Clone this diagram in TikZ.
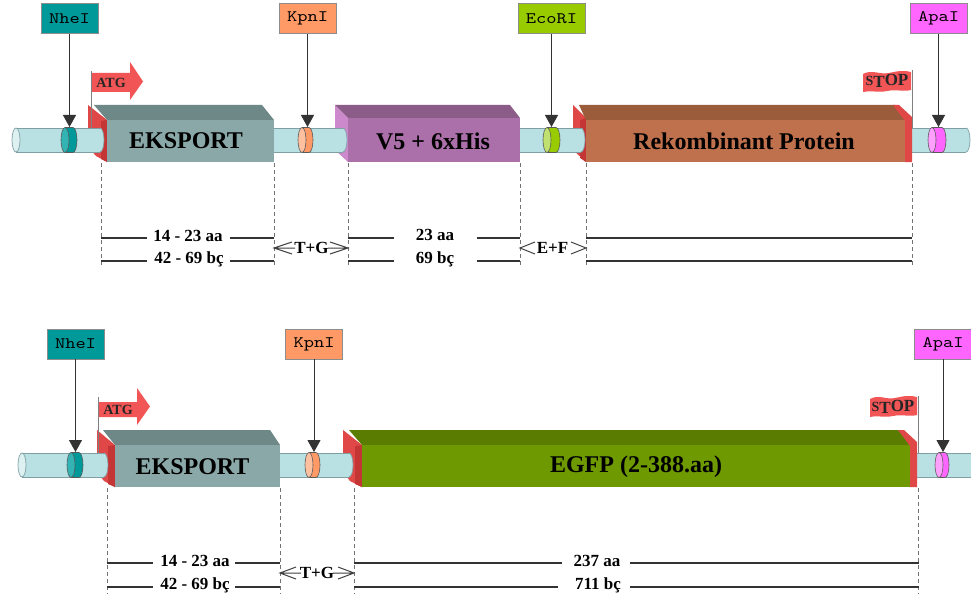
\documentclass[tikz,border=0pt]{standalone}
\usepackage{fontspec}
\setmainfont{Liberation Serif}
\newfontfamily\monof{lmmono10-regular.otf}[FakeStretch=1.22]
\usetikzlibrary{arrows.meta}

\definecolor{tubefill}{HTML}{B9E0E3}
\definecolor{tubeend}{HTML}{DDF1F2}
\definecolor{tubeline}{HTML}{7F9FA3}
\definecolor{ekTop}{HTML}{6E8787}
\definecolor{ekFront}{HTML}{8AA8A8}
\definecolor{vTop}{HTML}{8C5C88}
\definecolor{vFront}{HTML}{AB6FA9}
\definecolor{vSide}{HTML}{CC8ACC}
\definecolor{rkTop}{HTML}{9B5C3C}
\definecolor{rkFront}{HTML}{BF704C}
\definecolor{egTop}{HTML}{5A7C00}
\definecolor{egFront}{HTML}{6E9900}
\definecolor{capRed}{HTML}{E04848}
\definecolor{capDark}{HTML}{C43636}
\definecolor{flagRed}{HTML}{F25555}
\definecolor{nheC}{HTML}{009999}
\definecolor{nheL}{HTML}{33B3B3}
\definecolor{kpnC}{HTML}{FF9966}
\definecolor{kpnL}{HTML}{FFC0A0}
\definecolor{ecoC}{HTML}{99CC00}
\definecolor{ecoL}{HTML}{C0E070}
\definecolor{apaC}{HTML}{FF66FF}
\definecolor{apaL}{HTML}{FFA0FF}

\tikzset{
  enz/.style={draw=black!45, line width=0.8pt, minimum width=57pt, minimum height=30pt,
    inner sep=0pt, font=\monof\fontsize{16}{16}\selectfont},
  cut/.style={draw=black!80, line width=0.9pt, -{Triangle[width=13pt,length=12pt]}},
  dimline/.style={draw=black!80, line width=1.1pt},
  chev/.style={draw=black!75, line width=1pt, line join=miter},
  guide/.style={draw=black!55, dash pattern=on 4pt off 3pt, line width=0.7pt},
  dimtxt/.style={font=\bfseries\fontsize{17}{17}\selectfont, inner sep=0pt},
  boxtxt/.style={font=\bfseries\fontsize{24}{24}\selectfont, inner sep=0pt},
  flagtxt/.style={font=\bfseries\fontsize{14}{14}\selectfont, inner sep=0pt, text=black!85},
  stoptxt/.style={font=\bfseries\fontsize{17}{17}\selectfont, inner sep=0pt, text=black!85},
  pole/.style={draw=black!50, line width=1pt},
}

% tube segment: x1, x2, yc, cap(1/0)
\newcommand{\tubeseg}[4]{%
  \ifnum#4=1 \fill[tubefill] (#2,#3) ellipse [x radius=4, y radius=12];\fi
  \fill[tubefill] (#1,#3-12) rectangle (#2,#3+12);
  \draw[tubeline, line width=0.7pt] (#1,#3-12) -- (#2,#3-12) (#1,#3+12) -- (#2,#3+12);
  \ifnum#4=1 \draw[tubeline, line width=0.7pt] (#2,#3-12) arc [start angle=-90, end angle=90, x radius=4, y radius=12];\fi
}
% ring: x left centre, x right centre, yc, light, dark
\newcommand{\ringmk}[5]{%
  \fill[#5] (#1,#3-12.5) rectangle (#2,#3+12.5);
  \fill[#5] (#2,#3) ellipse [x radius=4, y radius=12.5];
  \draw[black!65, line width=0.6pt] (#2,#3-12.5) arc [start angle=-90, end angle=90, x radius=4, y radius=12.5];
  \draw[black!65, line width=0.6pt] (#1,#3-12.5) -- (#2,#3-12.5) (#1,#3+12.5) -- (#2,#3+12.5);
  \filldraw[fill=#4, draw=black!65, line width=0.6pt] (#1,#3) ellipse [x radius=4, y radius=12.5];
}
\newcommand{\stopword}{{\fontsize{14}{14}\selectfont S}\raisebox{-2pt}{T}OP}

\begin{document}
\begin{tikzpicture}[x=1pt,y=-1pt]
\fill[white] (0,0) rectangle (971,599);
\useasboundingbox (0,0) rectangle (971,599);

%================= TOP ROW =================
\foreach \x in {101,274,348,520,586,912}{\draw[guide] (\x,163) -- (\x,266);}

% side faces / caps behind tube
\fill[capRed] (88,105) -- (107,120) -- (107,162) -- (96,156) -- (88,147) -- cycle;
\fill[capDark] (101,121) -- (107,120) -- (107,162) -- (101,159) -- cycle;
\fill[vSide] (335,105) -- (348,118) -- (348,162) -- (335,150) -- cycle;
\fill[capRed] (573,105) -- (586,118) -- (586,162) -- (573,150) -- cycle;
\fill[capDark] (580,120) -- (586,118) -- (586,162) -- (580,158) -- cycle;

% tube
\tubeseg{16}{100}{140}{1}
\filldraw[fill=tubeend, draw=tubeline, line width=0.7pt] (16,140) ellipse [x radius=4, y radius=12];
\tubeseg{274}{343}{140}{1}
\tubeseg{520}{581}{140}{1}
\tubeseg{912}{966}{140}{1}

% blocks
\fill[ekTop] (94,105) -- (262,105) -- (274,120) -- (107,120) -- cycle;
\fill[ekFront] (107,120) rectangle (274,162);
\fill[vTop] (335,105) -- (510,105) -- (520,118) -- (348,118) -- cycle;
\fill[vFront] (348,118) rectangle (520,162);
\fill[rkTop] (579,105) -- (895,105) -- (912,120) -- (586,120) -- cycle;
\fill[rkFront] (586,120) rectangle (906,162);
\fill[capRed] (893,105) -- (899,105) -- (912,117) -- (912,162) -- (905,162) -- (905,121) -- cycle;

\node[boxtxt] (ek1) at (186,141) {EKSPORT};
\node[boxtxt] (v51) at (433,141) {V5 + 6xHis};
\node[boxtxt] (rk1) at (744,141) {Rekombinant Protein};

% rings
\ringmk{65}{73}{140}{nheL}{nheC}
\ringmk{302}{309}{140}{kpnL}{kpnC}
\ringmk{547}{556}{140}{ecoL}{ecoC}
\ringmk{932}{942}{140}{apaL}{apaC}

% enzyme boxes and cut arrows
\node[enz, fill=nheC] (nhe1) at (69.5,18.5) {NheI};
\node[enz, fill=kpnC] (kpn1) at (307.5,18.5) {KpnI};
\node[enz, fill=ecoC, minimum width=67pt] (eco1) at (551.5,18.5) {EcoRI};
\node[enz, fill=apaC] (apa1) at (938.5,18.5) {ApaI};
\coordinate (nhe1t) at (69.5,127);
\coordinate (kpn1t) at (307.5,127);
\coordinate (eco1t) at (551.5,127);
\coordinate (apa1t) at (938.5,127);
\draw[cut] (nhe1) -- (nhe1t);
\draw[cut] (kpn1) -- (kpn1t);
\draw[cut] (eco1) -- (eco1t);
\draw[cut] (apa1) -- (apa1t);

% ATG flag
\coordinate (atg1p) at (91,71);
\coordinate (atg1b) at (91,128);
\draw[pole] (atg1p) -- (atg1b);
\fill[flagRed] (92,73) -- (130,73) -- (130,62) -- (143,81.5) -- (130,100) -- (130,92) -- (92,92) -- cycle;
\node[flagtxt] (atg1) at (111,83) {ATG};

% STOP flag
\coordinate (stp1p) at (912,70);
\coordinate (stp1b) at (912,128);
\fill[flagRed] (863,74) .. controls (872,69) and (880,75) .. (889,73) .. controls (898,71) and (904,70) .. (911,72)
  -- (911,90) .. controls (903,92) and (896,89) .. (887,91) .. controls (878,93) and (870,90) .. (863,92) -- cycle;
\draw[pole, line width=0.8pt] (stp1p) -- (stp1b);
\node[stoptxt] (stp1) at (887,81) {\stopword};

% dimensions
\node[dimtxt] (d1) at (188,236) {14 - 23 aa};
\node[dimtxt] (d2) at (189,259) {42 - 69 bç};
\draw[dimline] (101,238) -- (147,238) (230,238) -- (274,238);
\draw[dimline] (101,261) -- (147,261) (230,261) -- (274,261);
\node[dimtxt] (d3) at (311.5,248) {T+G};
\draw[chev] (292,242) -- (274,248) -- (292,254) (274,248) -- (295,248);
\draw[chev] (330,242) -- (348,248) -- (330,254) (348,248) -- (328,248);
\node[dimtxt] (d4) at (435,235) {23 aa};
\node[dimtxt] (d5) at (435,259) {69 bç};
\draw[dimline] (348,238) -- (394,238) (477,238) -- (520,238);
\draw[dimline] (348,261) -- (394,261) (477,261) -- (520,261);
\node[dimtxt] (d6) at (552.5,248) {E+F};
\draw[chev] (535,242) -- (520,248) -- (535,254);
\draw[chev] (571,242) -- (586,248) -- (571,254);
\draw[dimline] (586,238) -- (912,238);
\draw[dimline] (586,261) -- (912,261);

%================= BOTTOM ROW =================
\foreach \x in {107,280,354,918}{\draw[guide] (\x,488) -- (\x,594);}

\fill[capRed] (97,430) -- (115,445) -- (115,487) -- (104,481) -- (97,472) -- cycle;
\fill[capDark] (108,446) -- (115,445) -- (115,487) -- (108,484) -- cycle;
\fill[capRed] (343,430) -- (362,445) -- (362,487) -- (350,481) -- (343,472) -- cycle;
\fill[capDark] (355,446) -- (362,445) -- (362,487) -- (355,484) -- cycle;

\tubeseg{22}{104}{465}{1}
\filldraw[fill=tubeend, draw=tubeline, line width=0.7pt] (22,465) ellipse [x radius=4, y radius=12];
\tubeseg{280}{349}{465}{1}
\tubeseg{917}{975}{465}{0}

\fill[ekTop] (103,430) -- (270,430) -- (280,445) -- (115,445) -- cycle;
\fill[ekFront] (115,445) rectangle (280,487);
\fill[egTop] (349,430) -- (900,430) -- (917,445) -- (362,445) -- cycle;
\fill[egFront] (362,445) rectangle (911,487);
\fill[capRed] (898,430) -- (904,430) -- (917,442) -- (917,487) -- (910,487) -- (910,446) -- cycle;

\node[boxtxt] (ek2) at (192.5,467) {EKSPORT};
\node[boxtxt] (eg2) at (636,467) {EGFP (2-388.aa)};

\ringmk{71}{79}{465}{nheL}{nheC}
\ringmk{309}{316}{465}{kpnL}{kpnC}
\ringmk{939}{945}{465}{apaL}{apaC}

\node[enz, fill=nheC] (nhe2) at (75.5,344) {NheI};
\node[enz, fill=kpnC] (kpn2) at (314,344) {KpnI};
\node[enz, fill=apaC] (apa2) at (943,344) {ApaI};
\coordinate (nhe2t) at (75.5,452);
\coordinate (kpn2t) at (314,452);
\coordinate (apa2t) at (943,452);
\draw[cut] (nhe2) -- (nhe2t);
\draw[cut] (kpn2) -- (kpn2t);
\draw[cut] (apa2) -- (apa2t);

\coordinate (atg2p) at (98,397);
\coordinate (atg2b) at (98,453);
\draw[pole] (atg2p) -- (atg2b);
\fill[flagRed] (99,402) -- (137,402) -- (137,388) -- (150,406.5) -- (137,425) -- (137,417) -- (99,417) -- cycle;
\node[flagtxt] (atg2) at (118,410) {ATG};

\coordinate (stp2p) at (918,396);
\coordinate (stp2b) at (918,453);
\fill[flagRed] (870,399) .. controls (879,394) and (886,400) .. (895,398) .. controls (904,396) and (910,395) .. (917,397)
  -- (917,415) .. controls (909,417) and (902,414) .. (893,416) .. controls (884,418) and (876,415) .. (870,417) -- cycle;
\draw[pole, line width=0.8pt] (stp2p) -- (stp2b);
\node[stoptxt] (stp2) at (893,407) {\stopword};

\node[dimtxt] (e1) at (195,561) {14 - 23 aa};
\node[dimtxt] (e2) at (195,585) {42 - 69 bç};
\draw[dimline] (107,563) -- (153,563) (235,563) -- (280,563);
\draw[dimline] (107,587) -- (153,587) (235,587) -- (280,587);
\node[dimtxt] (e3) at (317,573) {T+G};
\draw[chev] (296,567) -- (280,573) -- (296,579) (280,573) -- (301,573);
\draw[chev] (338,567) -- (354,573) -- (338,579) (354,573) -- (333,573);
\node[dimtxt] (e4) at (597,561) {237 aa};
\node[dimtxt] (e5) at (598,585) {711 bç};
\draw[dimline] (354,563) -- (562,563) (630,563) -- (919,563);
\draw[dimline] (354,587) -- (558,587) (630,587) -- (919,587);
\end{tikzpicture}
\end{document}
